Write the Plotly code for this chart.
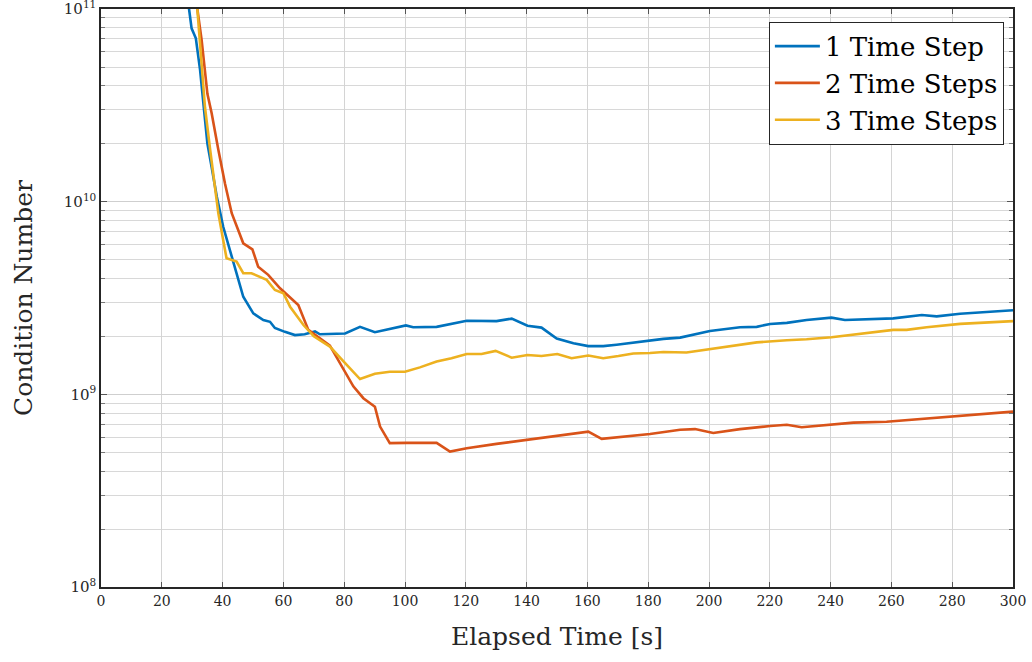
import plotly.graph_objects as go

# Elapsed time [s] and condition numbers for each scheme
t_1step = [28.3, 29.8, 31.2, 32.6, 33.9, 35.0, 36.4, 38.1, 40.2, 42.4, 44.6, 46.8, 50.1, 53.4,
           55.6, 57.2, 60.5, 63.8, 67.0, 70.4, 72.0, 75.3, 80.3, 85.2, 90.1, 100.3, 102.7, 110.4,
           120.3, 130.1, 135.1, 140.3, 144.9, 149.9, 155.4, 160.3, 165.2, 169.6, 175.1, 180.6,
           185.0, 190.5, 200.3, 210.2, 215.7, 220.1, 225.6, 232.1, 240.3, 244.7, 254.0, 260.6,
           270.0, 274.9, 282.6, 293.5, 300.0]
cond_1step = [1.2e11, 7.94e10, 7.05e10, 4.82e10, 2.99e10, 2.0e10, 1.51e10, 1.06e10, 7.41e9, 5.62e9,
              4.25e9, 3.21e9, 2.63e9, 2.43e9, 2.38e9, 2.21e9, 2.11e9, 2.03e9, 2.05e9, 2.12e9,
              2.05e9, 2.06e9, 2.07e9, 2.24e9, 2.10e9, 2.28e9, 2.23e9, 2.24e9, 2.41e9, 2.40e9,
              2.47e9, 2.27e9, 2.22e9, 1.95e9, 1.84e9, 1.78e9, 1.78e9, 1.81e9, 1.86e9, 1.90e9,
              1.94e9, 1.97e9, 2.13e9, 2.23e9, 2.24e9, 2.32e9, 2.35e9, 2.43e9, 2.50e9, 2.43e9,
              2.46e9, 2.48e9, 2.58e9, 2.54e9, 2.62e9, 2.69e9, 2.73e9]

t_2steps = [31.0, 33.1, 35.0, 36.4, 38.6, 40.8, 43.0, 45.2, 46.8, 49.8, 51.7, 55.0, 58.9, 64.9,
            68.2, 75.3, 79.7, 83.0, 86.3, 90.1, 91.8, 95.0, 100.5, 105.5, 110.4, 114.8, 120.3,
            130.1, 140.0, 149.9, 160.3, 164.7, 170.7, 180.6, 190.5, 195.4, 201.4, 210.2, 220.1,
            225.6, 230.5, 238.7, 247.5, 258.4, 269.4, 280.4, 289.1, 300.0]
cond_2steps = [1.2e11, 6.92e10, 3.63e10, 2.88e10, 1.86e10, 1.24e10, 8.71e9, 7.13e9, 6.08e9, 5.66e9,
               4.60e9, 4.17e9, 3.55e9, 2.91e9, 2.16e9, 1.79e9, 1.36e9, 1.10e9, 9.55e8, 8.63e8,
               6.80e8, 5.58e8, 5.60e8, 5.58e8, 5.60e8, 5.05e8, 5.25e8, 5.53e8, 5.80e8, 6.10e8,
               6.40e8, 5.87e8, 5.99e8, 6.22e8, 6.55e8, 6.60e8, 6.30e8, 6.60e8, 6.85e8, 6.95e8,
               6.75e8, 6.95e8, 7.13e8, 7.20e8, 7.43e8, 7.73e8, 7.90e8, 8.13e8]

t_3steps = [31.3, 33.1, 34.2, 35.9, 37.5, 38.6, 40.2, 41.3, 44.6, 46.8, 49.5, 54.5, 57.2, 60.0,
            62.2, 66.6, 70.0, 75.3, 80.3, 85.2, 90.1, 95.0, 100.0, 104.9, 110.4, 115.3, 120.3,
            125.2, 129.8, 135.1, 140.3, 144.9, 150.1, 154.8, 160.3, 165.2, 170.2, 175.1, 180.6,
            185.0, 192.6, 200.3, 210.2, 215.7, 225.6, 232.1, 240.3, 249.7, 260.6, 265.0, 271.6,
            282.6, 293.5, 300.0]
cond_3steps = [1.2e11, 5.01e10, 3.09e10, 1.86e10, 1.20e10, 8.71e9, 6.31e9, 5.08e9, 4.89e9, 4.25e9,
               4.25e9, 3.93e9, 3.48e9, 3.35e9, 2.85e9, 2.29e9, 2.00e9, 1.77e9, 1.45e9, 1.20e9,
               1.28e9, 1.31e9, 1.31e9, 1.38e9, 1.48e9, 1.54e9, 1.62e9, 1.62e9, 1.68e9, 1.55e9,
               1.60e9, 1.58e9, 1.62e9, 1.54e9, 1.59e9, 1.54e9, 1.58e9, 1.63e9, 1.64e9, 1.66e9,
               1.65e9, 1.72e9, 1.82e9, 1.86e9, 1.91e9, 1.93e9, 1.98e9, 2.07e9, 2.16e9, 2.16e9,
               2.23e9, 2.32e9, 2.37e9, 2.40e9]

series_names = ["1 Time Step", "2 Time Steps", "3 Time Steps"]
series_colors = ["#0072BD", "#D95319", "#EDB120"]

x_ticks = list(range(0, 301, 20))
decades = [8, 9, 10, 11]

# labelled ticks at the decades, unlabelled minor ticks at k*10^n
y_major = [10.0 ** n for n in decades]
y_major_text = [f"10<sup>{n}</sup>" for n in decades]
y_minor = [k * 10.0 ** n for n in decades[:-1] for k in range(2, 10)]

FONT = "DejaVu Serif"

fig = go.Figure()
for t, c, name, col in zip([t_1step, t_2steps, t_3steps],
                           [cond_1step, cond_2steps, cond_3steps],
                           series_names, series_colors):
    fig.add_trace(go.Scatter(x=t, y=c, mode="lines", name=name,
                             line=dict(color=col, width=2.6)))

fig.update_layout(
    width=1032, height=662,
    margin=dict(l=101, r=19, t=9, b=75, autoexpand=False),
    paper_bgcolor="white", plot_bgcolor="white",
    font=dict(family=FONT, color="#262626"),
    legend=dict(x=0.990, y=0.978, xanchor="right", yanchor="top",
                bgcolor="white", bordercolor="#262626", borderwidth=1,
                font=dict(family=FONT, size=26, color="#000000"),
                tracegroupgap=0, itemwidth=45),
    showlegend=True,
)

fig.update_xaxes(
    range=[0, 300], tickvals=x_ticks, ticktext=[str(v) for v in x_ticks],
    showgrid=True, gridcolor="#d4d4d4", gridwidth=1,
    showline=True, linecolor="#262626", linewidth=1.5, mirror="ticks",
    ticks="inside", ticklen=5, tickcolor="#555555",
    tickfont=dict(family=FONT, size=14, color="#262626"),
    title=dict(text="Elapsed Time [s]", font=dict(family=FONT, size=25, color="#262626"),
               standoff=20),
    zeroline=False, automargin=False,
)
fig.update_yaxes(
    type="log", range=[8, 11], tickvals=y_major, ticktext=y_major_text,
    showgrid=True, gridcolor="#cfcfcf", gridwidth=1,
    showline=True, linecolor="#262626", linewidth=1.5, mirror="ticks",
    ticks="inside", ticklen=6, tickcolor="#555555", ticklabeloverflow="allow",
    tickfont=dict(family=FONT, size=15, color="#262626"),
    minor=dict(tickvals=y_minor, ticks="inside", ticklen=4, tickcolor="#777777",
               showgrid=True, gridcolor="#d8d8d8", gridwidth=1),
    title=dict(text="Condition Number", font=dict(family=FONT, size=25, color="#262626"),
               standoff=24),
    zeroline=False, automargin=False,
)

fig.write_html("out.html")
